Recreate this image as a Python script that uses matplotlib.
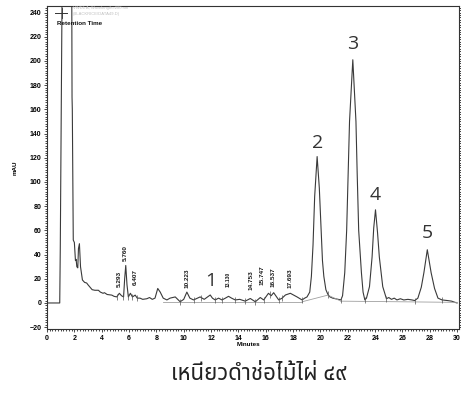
import numpy as np
import matplotlib
matplotlib.use("Agg")
import matplotlib.pyplot as plt
from matplotlib import font_manager
from matplotlib.ft2font import FT2Font
from matplotlib.ticker import MultipleLocator

# chromatogram trace (minutes, mAU)
trace_t = [0.0, 0.93, 0.97, 1.03, 1.10, 1.22, 1.5, 1.80, 1.83, 1.85, 1.92,
           2.00, 2.08, 2.13, 2.18, 2.25, 2.30, 2.37, 2.45, 2.59, 2.75, 2.9, 3.0,
           3.15, 3.3, 3.5, 3.76, 3.9, 4.1, 4.2, 4.4, 4.74, 4.9, 5.1, 5.29, 5.45,
           5.6, 5.68, 5.76, 5.85, 5.95, 6.1, 6.25, 6.45, 6.6, 6.8, 7.0, 7.3, 7.5,
           7.7, 7.9, 8.1, 8.28, 8.5, 8.77, 9.0, 9.38, 9.74, 10.0, 10.23, 10.45,
           10.72, 11.0, 11.2, 11.5, 11.94, 12.1, 12.3, 12.55, 12.8, 13.05, 13.28,
           13.5, 13.77, 14.1, 14.5, 14.87, 15.24, 15.6, 15.85, 16.2, 16.4, 16.58,
           16.95, 17.2, 17.44, 17.8, 18.29, 18.66, 18.85, 19.02, 19.22, 19.34,
           19.46, 19.58, 19.76, 19.92, 20.05, 20.15, 20.25, 20.4, 20.55, 20.7,
           20.9, 21.1, 21.3, 21.5, 21.62, 21.78, 21.92, 22.03, 22.13, 22.37,
           22.6, 22.69, 22.8, 23.0, 23.12, 23.25, 23.37, 23.59, 23.78, 23.9,
           24.03, 24.18, 24.31, 24.56, 24.83, 25.0, 25.2, 25.4, 25.6, 25.85,
           26.1, 26.4, 26.7, 26.9, 27.13, 27.38, 27.57, 27.82, 28.1, 28.35,
           28.6, 28.9, 29.3, 29.6, 29.85, 30.0]
trace_v = [0, 0, 45, 140, 255, 300, 400, 300, 170, 160, 52,
           50, 35, 36, 30, 29, 45, 49, 30, 19, 17, 16.5, 15,
           13, 11, 10.5, 10.5, 9, 8, 8.5, 7, 6.5, 5.5, 5, 8, 6,
           5, 20, 31, 15, 5, 8, 5, 6.5, 4, 4, 3, 3.5, 4.5,
           3, 4, 12, 9, 4, 2.5, 4, 5, 1, 3, 9, 4,
           2.5, 4, 5, 3, 6.6, 4, 2.5, 4, 2.5, 4, 5.5,
           4, 2.5, 3, 1.5, 3.7, 1, 4.5, 2.5, 8, 6, 8.5,
           2.5, 4, 6.6, 8, 5, 2.5, 4, 5, 9, 22,
           48, 88, 121, 95, 62, 35, 22, 11, 7, 5,
           4, 3.5, 3, 2.5, 6, 25, 60, 107, 150, 201,
           150, 107, 60, 25, 9, 2.5, 4, 13.5, 38, 62,
           77, 58, 38, 13.5, 3.5, 4.5, 3, 4, 2.5, 3.5,
           2.5, 3, 2.5, 2, 4, 13, 25, 44, 25, 12,
           4, 2.5, 2, 1.5, 0.5, 0]

# retention time labels (minutes, mAU of the label foot)
rt_labels = ["5.293", "5.760", "6.407", "10.223", "13.130", "14.753",
             "15.747", "16.537", "17.693"]
rt_x = [5.27, 5.71, 6.45, 10.26, 13.26, 14.95, 15.70, 16.53, 17.75]
rt_y = [13, 35, 15, 12, 13, 11, 15, 13, 12]

# numbered compounds
peak_names = ["1", "2", "3", "4", "5"]
peak_x = [12.0, 19.76, 22.37, 24.03, 27.82]
peak_y = [18, 132, 214, 89, 58]

# integration baselines and boundary marks
base_t = [[8.5, 18.66], [18.66, 20.55], [20.55, 21.5], [21.5, 30.0]]
base_v = [[1, 1], [1, 6.5], [6.5, 1.5], [1.5, 0.5]]
bound_t = [5.1, 5.55, 5.95, 6.25, 6.6, 9.74, 10.72, 11.3, 12.3, 12.8, 13.77,
           14.5, 15.24, 15.85, 16.3, 16.95, 17.2, 18.66, 20.55, 21.5, 23.25,
           24.83, 26.9, 28.9]

title = "เหนียวดำช่อไม้ไผ่ ๔๙"

# find a font that has Thai glyphs
thai_font = None
prefer = ["Noto Sans Thai", "Noto Sans Thai Looped", "Loma", "Garuda", "Norasi"]
cands = []
for f in font_manager.fontManager.ttflist:
    try:
        if FT2Font(f.fname).get_char_index(0x0E40):
            cands.append(f.name)
    except Exception:
        pass
for p in prefer:
    if p in cands:
        thai_font = p
        break
if thai_font is None and cands:
    thai_font = cands[0]

lab_font = "Liberation Sans"
fig = plt.figure(figsize=(4.61, 3.94), dpi=100)
ax = fig.add_axes([0.102, 0.165, 0.894, 0.820])

ax.plot(trace_t, trace_v, color="#3a3a3a", lw=0.8)
for bt, bv in zip(base_t, base_v):
    ax.plot(bt, bv, color="#a0a0a0", lw=0.6)
bv_at = np.interp(bound_t, trace_t, trace_v)
ax.vlines(bound_t, bv_at - 2.5, bv_at + 2.5, color="#555555", lw=0.5)

for s, x, y in zip(rt_labels, rt_x, rt_y):
    fs = 3.6 if s == "13.130" else 4.6
    ax.text(x, y, s, rotation=90, ha="center", va="bottom", fontsize=fs,
            fontweight="bold", family=lab_font, color="#1a1a1a")
for s, x, y in zip(peak_names, peak_x, peak_y):
    ax.text(x, y, s, ha="center", va="center", fontsize=14,
            family="Open Sans", color="#333333")

ax.set_xlim(0, 30.15)
ax.set_ylim(-21.5, 245.5)
ax.xaxis.set_major_locator(MultipleLocator(2))
ax.xaxis.set_minor_locator(MultipleLocator(0.2))
ax.yaxis.set_major_locator(MultipleLocator(20))
ax.yaxis.set_minor_locator(MultipleLocator(2))
ax.tick_params(which="both", direction="out", width=0.5, right=True, labelsize=5, pad=1.5)
ax.tick_params(which="major", length=2.5)
ax.tick_params(which="minor", length=1.2)
for lbl in ax.get_xticklabels() + ax.get_yticklabels():
    lbl.set_fontweight("bold")
    lbl.set_family(lab_font)
for sp in ax.spines.values():
    sp.set_linewidth(0.8)
    sp.set_color("#333333")

# legend block
ax.plot([0.019, 0.049], [0.978, 0.978], color="#333333", lw=0.7, transform=ax.transAxes)
ax.plot([0.037, 0.037], [0.962, 0.994], color="#333333", lw=0.6, transform=ax.transAxes)
ax.text(0.063, 0.992, "VWD1 A, Wavelength=280 nm", transform=ax.transAxes,
        fontsize=3, color="#c0c0c0", va="center", family=lab_font)
ax.text(0.063, 0.976, "(BLACKRICE\\DATA49.D)", transform=ax.transAxes,
        fontsize=3, color="#c0c0c0", va="center", family=lab_font)
ax.text(0.024, 0.947, "Retention Time", transform=ax.transAxes, fontsize=4.5,
        fontweight="bold", va="center", family=lab_font, color="#111111")

fig.text(15 / 461, 1 - 168 / 394, "mAU", rotation=90, ha="center", va="center",
         fontsize=4.5, fontweight="bold", family=lab_font)
fig.text(248 / 461, 1 - 345 / 394, "Minutes", ha="center", va="center",
         fontsize=4.5, fontweight="bold", family=lab_font)
fam = [thai_font, "DejaVu Sans"] if thai_font else ["DejaVu Sans"]
fig.text(259 / 461, 1 - 374 / 394, title, ha="center", va="center",
         fontsize=16, family=fam, color="#222222")

fig.savefig("out.png", dpi=100)
